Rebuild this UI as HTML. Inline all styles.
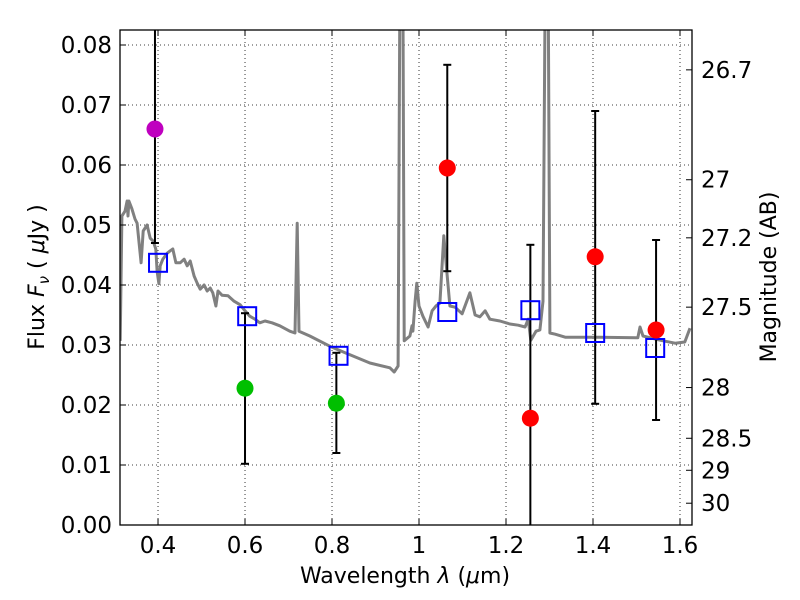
<!DOCTYPE html>
<html><head><meta charset="utf-8"><style>
html,body{margin:0;padding:0;background:#fff;}
svg{display:block;font-family:"DejaVu Sans","Liberation Sans",sans-serif;}
</style></head><body>
<svg id="chart" width="800" height="600" viewBox="0 0 800 600">
<defs><clipPath id="clip"><rect x="120" y="30" width="572" height="495"/></clipPath></defs>
<g id="grid"></g>
<g id="spec" clip-path="url(#clip)"></g>
<g id="marks" clip-path="url(#clip)"></g>
<rect x="120" y="30" width="572" height="495" fill="none" stroke="#000" stroke-width="1.3"/>
<g id="axes"></g>
<text x="405" y="583" font-size="22" text-anchor="middle">Wavelength  <tspan font-style="italic">λ</tspan> (<tspan font-style="italic">μ</tspan>m)</text>
<text transform="translate(44,277) rotate(-90)" font-size="22" text-anchor="middle">Flux  <tspan font-style="italic">F</tspan><tspan font-style="italic" font-size="15" dy="5">ν</tspan><tspan dy="-5">  ( <tspan font-style="italic">μ</tspan>Jy )</tspan></text>
<text transform="translate(776,277) rotate(-90)" font-size="22" text-anchor="middle">Magnitude (AB)</text>
</svg>
<script>
const xTicks=[0.4,0.6,0.8,1.0,1.2,1.4,1.6];
const xTickLabels=["0.4","0.6","0.8","1","1.2","1.4","1.6"];
const yTicks=[0,0.01,0.02,0.03,0.04,0.05,0.06,0.07,0.08];
const yTickLabels=["0.00","0.01","0.02","0.03","0.04","0.05","0.06","0.07","0.08"];
const magTicks=[26.7,27,27.2,27.5,28,28.5,29,30];
const magTickLabels=["26.7","27","27.2","27.5","28","28.5","29","30"];
const specLam=[0.313,0.317,0.324,0.329,0.331,0.333,0.340,0.347,0.352,0.361,0.366,0.375,0.382,0.389,0.395,0.398,0.402,0.405,0.411,0.421,0.428,0.434,0.441,0.451,0.460,0.467,0.474,0.483,0.490,0.497,0.506,0.513,0.520,0.526,0.533,0.538,0.547,0.561,0.575,0.589,0.600,0.611,0.623,0.634,0.646,0.662,0.680,0.703,0.715,0.720,0.724,0.749,0.795,0.830,0.887,0.933,0.943,0.952,0.956,0.963,0.966,0.979,0.984,0.986,0.991,0.995,1.000,1.009,1.021,1.030,1.039,1.048,1.057,1.064,1.071,1.083,1.099,1.117,1.129,1.140,1.152,1.163,1.186,1.209,1.228,1.244,1.251,1.257,1.269,1.278,1.285,1.290,1.297,1.301,1.313,1.336,1.416,1.503,1.508,1.515,1.554,1.589,1.611,1.623];
const specFlux=[0.0307,0.0515,0.0523,0.0540,0.0515,0.0540,0.0527,0.0510,0.0503,0.0437,0.0490,0.0500,0.0478,0.0473,0.0460,0.0423,0.0402,0.0432,0.0443,0.0453,0.0457,0.0460,0.0437,0.0437,0.0443,0.0432,0.0440,0.0415,0.0403,0.0393,0.0400,0.0390,0.0395,0.0387,0.0365,0.0390,0.0383,0.0382,0.0373,0.0367,0.0357,0.0348,0.0343,0.0337,0.0340,0.0337,0.0332,0.0323,0.0320,0.0503,0.0323,0.0315,0.0298,0.0287,0.0270,0.0262,0.0255,0.0265,0.09,0.09,0.0307,0.0315,0.0332,0.0323,0.0373,0.0403,0.0365,0.0348,0.0330,0.0357,0.0365,0.0370,0.0482,0.0423,0.0365,0.0363,0.0352,0.0387,0.0350,0.0347,0.0357,0.0343,0.0340,0.0335,0.0333,0.0330,0.0343,0.0308,0.0323,0.0325,0.0373,0.09,0.09,0.0320,0.0318,0.0313,0.0313,0.0312,0.0330,0.0315,0.0308,0.0303,0.0305,0.0328];
const modelLam=[0.4,0.605,0.815,1.065,1.256,1.405,1.543];
const modelFlux=[0.0437,0.0348,0.0282,0.0355,0.0358,0.0320,0.0295];
const obsLam=[0.393,0.600,0.810,1.065,1.256,1.405,1.545];
const obsFlux=[0.0660,0.0228,0.0203,0.0595,0.0178,0.0447,0.0325];
const obsHi=[0.0900,0.0353,0.0287,0.0767,0.0467,0.0690,0.0475];
const obsLo=[0.0470,0.0102,0.0120,0.0423,-0.0100,0.0202,0.0175];
const obsColor=["#bf00bf","#00bf00","#00bf00","#ff0000","#ff0000","#ff0000","#ff0000"];

const NS="http://www.w3.org/2000/svg";
const X0=120,X1=692,Y0=525,Y1=30;
const xmin=0.3126,xmax=1.6276,ymin=0,ymax=(525-30)/6000;
const sx=v=>X0+(v-xmin)/(xmax-xmin)*(X1-X0);
const sy=v=>Y0-(v-ymin)/(ymax-ymin)*(Y0-Y1);
const magToFlux=m=>Math.pow(10,(23.9-m)/2.5);
function mk(tag,attrs,parent){const e=document.createElementNS(NS,tag);for(const k in attrs)e.setAttribute(k,attrs[k]);parent.appendChild(e);return e;}
const grid=document.getElementById('grid'),axes=document.getElementById('axes'),spec=document.getElementById('spec'),marks=document.getElementById('marks');

xTicks.forEach((t,i)=>{const x=sx(t);
 const g=mk('line',{x1:x,x2:x,y1:Y1,y2:Y0,stroke:'#000','stroke-width':0.8,'stroke-dasharray':'1,3'},grid);
 
 
 mk('line',{x1:x,x2:x,y1:Y0,y2:Y0-6,stroke:'#000'},axes);
 mk('line',{x1:x,x2:x,y1:Y1,y2:Y1+6,stroke:'#000'},axes);
 const tx=mk('text',{x:x,y:Y0+28,'font-size':23,'text-anchor':'middle'},axes);tx.textContent=xTickLabels[i];
 
 
});
yTicks.forEach((t,i)=>{const y=sy(t);
 if(i>0){const g=mk('line',{x1:X0,x2:X1,y1:y,y2:y,stroke:'#000','stroke-width':0.8,'stroke-dasharray':'1,3'},grid);
 
 }
 mk('line',{x1:X0,x2:X0+6,y1:y,y2:y,stroke:'#000'},axes);
 const tx=mk('text',{x:112,y:y+8,'font-size':23,'text-anchor':'end'},axes);tx.textContent=yTickLabels[i];
 
 
});
magTicks.forEach((m,i)=>{const y=sy(magToFlux(m));
 mk('line',{x1:X1,x2:X1-6,y1:y,y2:y,stroke:'#000'},axes);
 const tx=mk('text',{x:701,y:y+8,'font-size':23},axes);tx.textContent=magTickLabels[i];
 
 
});
let d='';specLam.forEach((l,i)=>{d+=(i?'L':'M')+sx(l).toFixed(1)+','+sy(specFlux[i]).toFixed(1);});
const sp=mk('path',{d:d,fill:'none',stroke:'#808080','stroke-width':3,'stroke-linejoin':'round'},spec);



obsLam.forEach((l,i)=>{const x=sx(l);
 const e=mk('line',{x1:x,x2:x,y1:sy(obsHi[i]),y2:sy(obsLo[i]),stroke:'#000','stroke-width':2},marks);
 
 
 [obsHi[i],obsLo[i]].forEach(v=>{mk('line',{x1:x-4,x2:x+4,y1:sy(v),y2:sy(v),stroke:'#000','stroke-width':2},marks);});
});
modelLam.forEach((l,i)=>{
 const r=mk('rect',{x:sx(l)-9,y:sy(modelFlux[i])-9,width:18,height:18,fill:'none',stroke:'#0000ff','stroke-width':2},marks);
 
 
});
obsLam.forEach((l,i)=>{
 const c=mk('circle',{cx:sx(l),cy:sy(obsFlux[i]),r:8.5,fill:obsColor[i]},marks);
 
 
});
</script>
</body></html>
